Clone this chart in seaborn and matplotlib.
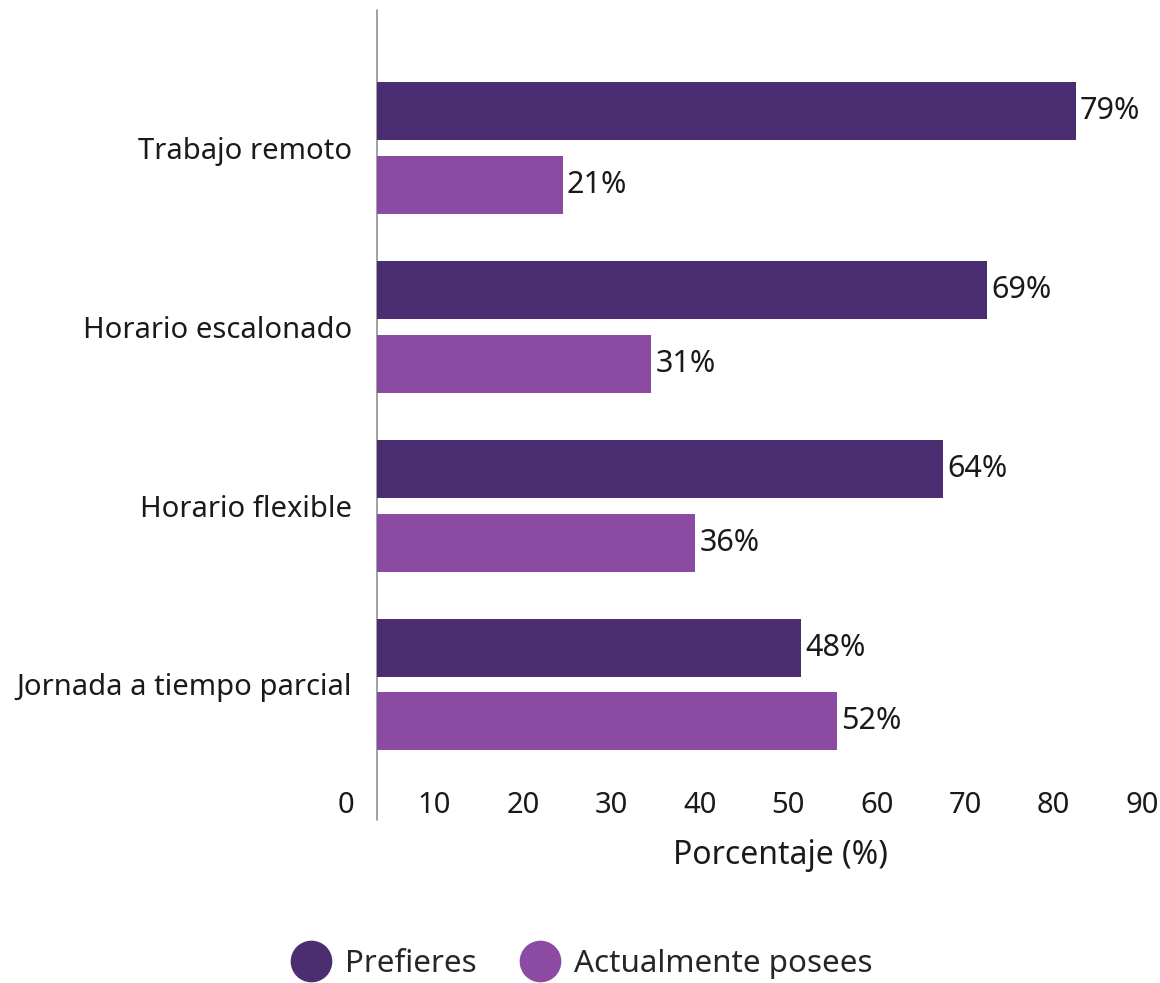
import matplotlib
matplotlib.use("Agg")
import matplotlib.pyplot as plt
import seaborn as sns
import pandas as pd
import numpy as np
from matplotlib.lines import Line2D

categories = ["Trabajo remoto", "Horario escalonado", "Horario flexible", "Jornada a tiempo parcial"]
series = ["Prefieres", "Actualmente posees"]
prefieres = [79, 69, 64, 48]
actualmente = [21, 31, 36, 52]
tick_values = [0, 10, 20, 30, 40, 50, 60, 70, 80, 90]
colors = ["#4b2e72", "#8b4ba3"]

df = pd.DataFrame({
    "categoria": categories * 2,
    "serie": [series[0]] * 4 + [series[1]] * 4,
    "valor": prefieres + actualmente,
})

sns.set_theme(style="white")
plt.rcParams["font.family"] = ["Noto Sans", "DejaVu Sans"]

W, H = 1160, 983
fig = plt.figure(figsize=(W / 100, H / 100), dpi=100)
left_px, right_px, top_px, bottom_px = 324, 1156, 10, 788
ax = fig.add_axes([left_px / W, 1 - bottom_px / H, (right_px - left_px) / W, (bottom_px - top_px) / H])

sns.barplot(data=df, x="valor", y="categoria", hue="serie", order=categories,
            hue_order=series, palette=colors, orient="h", width=0.826, gap=0.215,
            ax=ax, legend=False, saturation=1, linewidth=0)

ax.set_xlim(-6, 88.1)
ax.set_ylim(3.579, -0.772)

for cont in ax.containers:
    ax.bar_label(cont, labels=[f"{int(round(v))}%" for v in cont.datavalues],
                 padding=3, fontsize=22, color="#1a1a1a")

# tick labels (offset as in the reference print)
ax.set_xticks([t - 3.5 for t in tick_values])
ax.set_xticklabels([str(t) for t in tick_values], fontsize=21, color="#1a1a1a")
ax.tick_params(axis="x", length=0, pad=2)
ax.tick_params(axis="y", length=0, pad=-20, labelsize=21, labelcolor="#1a1a1a")
ax.set_ylabel("")
ax.set_xlabel("Porcentaje (%)", fontsize=23, color="#1a1a1a")
ax.xaxis.set_label_coords(0.549, -0.066)

for s in ax.spines.values():
    s.set_visible(False)

ax.plot([0, 0], [-0.041, 1], transform=ax.get_xaxis_transform(), color="#9a9a9a",
        lw=1.3, clip_on=False, zorder=0)

handles = [Line2D([], [], marker="o", ls="", markersize=29, markerfacecolor=c,
                  markeredgecolor=c) for c in colors]
fig.legend(handles, series, loc="center", bbox_to_anchor=(0.502, 1 - 964 / H), ncol=2,
           frameon=False, fontsize=22.5, handletextpad=0.5, columnspacing=1.4,
           handlelength=1.2)

fig.savefig("out.png", dpi=100)
